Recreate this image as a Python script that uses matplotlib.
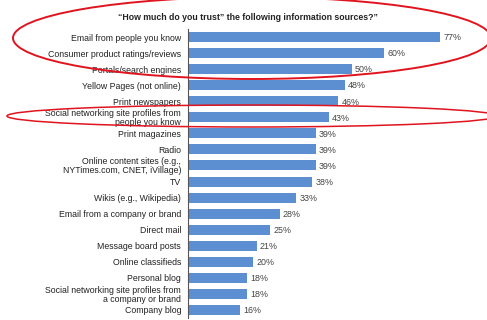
import matplotlib
matplotlib.use('Agg')
import matplotlib.pyplot as plt
from matplotlib.patches import Ellipse

plt.rcParams['font.family'] = 'Liberation Sans'

# Data
sources = [
    'Email from people you know',
    'Consumer product ratings/reviews',
    'Portals/search engines',
    'Yellow Pages (not online)',
    'Print newspapers',
    'Social networking site profiles from\npeople you know',
    'Print magazines',
    'Radio',
    'Online content sites (e.g.,\nNYTimes.com, CNET, iVillage)',
    'TV',
    'Wikis (e.g., Wikipedia)',
    'Email from a company or brand',
    'Direct mail',
    'Message board posts',
    'Online classifieds',
    'Personal blog',
    'Social networking site profiles from\na company or brand',
    'Company blog',
]
trust_pct = [77, 60, 50, 48, 46, 43, 39, 39, 39, 38, 33, 28, 25, 21, 20, 18, 18, 16]
title = '\u201cHow much do you trust\u201d the following information sources?\u201d'

W, H = 487, 320
fig = plt.figure(figsize=(W / 100, H / 100), dpi=100)
fig.patch.set_facecolor('white')

ax = fig.add_axes([188 / W, 2 / H, (W - 188) / W, (291 - 2) / H])
ypos = list(range(len(sources)))
ax.barh(ypos, trust_pct, height=0.62, color='#5b8fd1', edgecolor='none')
for y, v in zip(ypos, trust_pct):
    ax.text(v + 1.0, y + 0.05, f'{v}%', va='center', ha='left', fontsize=6.4, color='#444444')

ax.set_yticks(ypos)
ax.set_yticklabels(sources, fontsize=6.3, color='#222222', linespacing=1.0)
ax.tick_params(axis='y', length=0, pad=5)
ax.set_xticks([])
ax.set_xlim(0, (W - 188) / 3.27)
ax.set_ylim(len(sources) - 0.5, -0.5)
for s in ['top', 'right', 'bottom']:
    ax.spines[s].set_visible(False)
ax.spines['left'].set_color('#555555')
ax.spines['left'].set_linewidth(0.8)

fig.text(248 / W, 1 - 17 / H, title, ha='center', va='center',
         fontsize=6.3, fontweight='bold', color='#222222')

# red highlight ellipses
fig.add_artist(Ellipse((252 / W, 1 - 38 / H), 478 / W, 82 / H,
                       transform=fig.transFigure, fill=False, ec='#e0141e', lw=1.4))
fig.add_artist(Ellipse((252 / W, 1 - 116 / H), 490 / W, 22 / H,
                       transform=fig.transFigure, fill=False, ec='#e0141e', lw=1.1))

fig.savefig('out.png', dpi=100, facecolor='white')
